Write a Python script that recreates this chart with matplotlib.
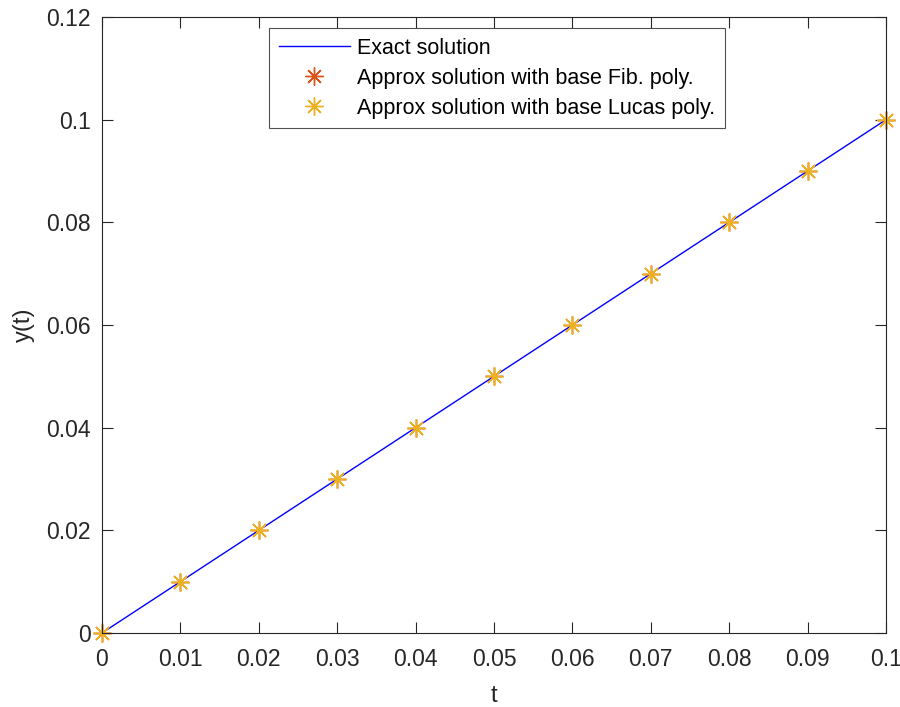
import numpy as np
import matplotlib
matplotlib.use("Agg")
from matplotlib import pyplot as plt

# data
t_exact = [0.0, 0.1]
y_exact = [0.0, 0.1]
t_nodes = [0.0, 0.01, 0.02, 0.03, 0.04, 0.05, 0.06, 0.07, 0.08, 0.09, 0.1]
y_fib = [0.0, 0.01, 0.02, 0.03, 0.04, 0.05, 0.06, 0.07, 0.08, 0.09, 0.1]
y_lucas = [0.0, 0.01, 0.02, 0.03, 0.04, 0.05, 0.06, 0.07, 0.08, 0.09, 0.1]
x_ticks = [0, 0.01, 0.02, 0.03, 0.04, 0.05, 0.06, 0.07, 0.08, 0.09, 0.1]
x_ticklabels = ["0", "0.01", "0.02", "0.03", "0.04", "0.05", "0.06", "0.07", "0.08", "0.09", "0.1"]
y_ticks = [0, 0.02, 0.04, 0.06, 0.08, 0.1, 0.12]
y_ticklabels = ["0", "0.02", "0.04", "0.06", "0.08", "0.1", "0.12"]

plt.rcParams["font.family"] = ["Liberation Sans", "DejaVu Sans"]
ink = "#262626"

fig = plt.figure(figsize=(9, 7.07), dpi=100)
ax = fig.add_axes([102 / 900, 74 / 707, 784 / 900, 616 / 707])

ast = (8, 2, 0)
ax.plot(t_exact, y_exact, color="#0000ff", lw=1.0, label="Exact solution")
ax.plot(t_nodes, y_fib, ls="none", marker=ast, ms=13, mew=1.0, clip_on=False,
        color="#D95319", label="Approx solution with base Fib. poly.")
ax.plot(t_nodes, y_lucas, ls="none", marker=ast, ms=13, mew=1.0, clip_on=False,
        color="#EDB120", label="Approx solution with base Lucas poly.")

ax.set_xlim(0, 0.1)
ax.set_ylim(0, 0.12)
ax.set_xticks(x_ticks)
ax.set_xticklabels(x_ticklabels)
ax.set_yticks(y_ticks)
ax.set_yticklabels(y_ticklabels)
ax.tick_params(direction="in", top=True, right=True, length=8, width=0.8,
               colors=ink, labelsize=16.5)
ax.tick_params(axis="x", pad=11)
ax.tick_params(axis="y", pad=8)
for s in ax.spines.values():
    s.set_color(ink)
    s.set_linewidth(0.8)
ax.set_xlabel("t", fontsize=17, color=ink, labelpad=10)
ax.set_ylabel("y(t)", fontsize=17, color=ink, labelpad=8)

leg = ax.legend(loc="upper left", bbox_to_anchor=((269 - 102) / 784, (633 - 28) / 616),
                fontsize=15.5, frameon=True, fancybox=False, borderpad=0.45,
                labelspacing=0.42, handlelength=3.3, handletextpad=0.35,
                borderaxespad=0)
leg.get_frame().set_edgecolor(ink)
leg.get_frame().set_linewidth(0.8)
for txt in leg.get_texts():
    txt.set_color("black")

fig.savefig("out.png", dpi=100)
